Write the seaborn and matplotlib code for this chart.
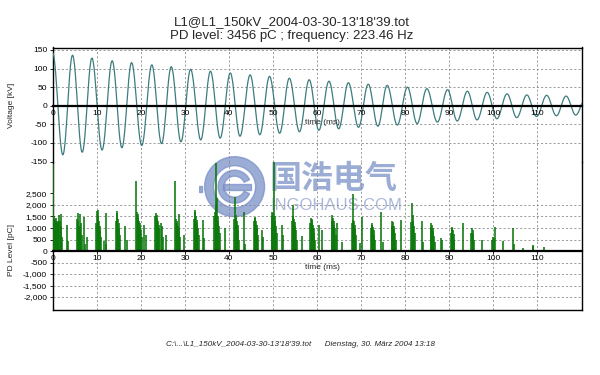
import numpy as np
import pandas as pd
import matplotlib
matplotlib.use("Agg")
import matplotlib.pyplot as plt
import seaborn as sns
from matplotlib.patches import Wedge, Rectangle
from matplotlib.ticker import FuncFormatter

# ---------------- data ----------------
title = "L1@L1_150kV_2004-03-30-13'18'39.tot"
subtitle = "PD level: 3456 pC ; frequency: 223.46 Hz"
footer = "C:\\...\\L1_150kV_2004-03-30-13'18'39.tot      Dienstag, 30. März 2004 13:18"

# voltage extremes (positive peaks / negative troughs)
peak_time_ms = [0.0, 4.5, 8.9, 13.5, 17.9, 22.5, 26.9, 31.3, 35.8, 40.3, 44.8, 49.2, 53.7, 58.2,
                62.7, 67.1, 71.6, 75.9, 80.5, 84.9, 89.6, 94.1, 98.6, 103.1, 107.6, 112.1, 116.5, 121.0]
peak_kv = [142, 136, 128, 121, 116, 110, 105, 98, 93, 88, 83, 79, 74, 70,
           66, 62, 58, 55, 50, 46, 43, 39, 36, 32, 29, 28, 26, 24]
trough_time_ms = [2.3, 6.7, 11.2, 15.7, 20.2, 24.7, 29.1, 33.6, 38.0, 42.5, 47.0, 51.5, 56.0, 60.4,
                  64.9, 69.4, 73.8, 78.2, 82.7, 87.3, 91.8, 96.3, 100.8, 105.3, 109.8, 114.3, 118.7]
trough_kv = [-132, -125, -119, -113, -107, -102, -97, -92, -87, -82, -78, -74, -70, -66,
             -62, -58, -55, -52, -48, -44, -41, -38, -35, -32, -29, -27, -25]

# PD pulses
pd_time_ms = [
    0.05, 0.15, 0.25, 0.4, 0.55, 0.7, 0.85, 1.0, 1.15, 1.3, 1.5, 1.65, 1.8, 1.95, 2.1, 3.15, 3.4,
    5.5, 5.65, 5.8, 5.95, 6.1, 6.3, 6.45, 6.6, 7.1, 7.3, 7.7,
    9.9, 10.05, 10.2, 10.35, 10.5, 10.65, 10.8, 11.0, 11.65, 12.0, 12.2,
    14.4, 14.55, 14.7, 14.85, 15.0, 15.15, 15.3, 16.5, 16.8,
    19.0, 19.15, 19.3, 19.45, 19.6, 19.75, 19.9, 20.05, 20.2, 20.8, 21.1,
    23.3, 23.45, 23.6, 23.75, 23.9, 24.05, 24.2, 24.6, 24.8, 25.0, 25.6,
    27.8, 27.95, 28.1, 28.25, 28.4, 28.55, 28.7, 28.85, 29.9,
    32.1, 32.25, 32.4, 32.55, 32.7, 32.85, 33.0, 33.2, 34.2, 34.4,
    36.7, 36.85, 37.0, 37.15, 37.3, 37.45, 37.6, 37.75, 37.9, 39.1,
    41.2, 41.35, 41.5, 41.65, 41.8, 41.95, 42.1, 42.3, 43.4, 43.6,
    45.7, 45.85, 46.0, 46.15, 46.3, 46.45, 46.6, 47.5, 47.7,
    49.7, 49.85, 50.0, 50.2, 50.35, 50.5, 50.65, 50.8, 52.1, 52.3,
    54.3, 54.45, 54.6, 54.75, 54.9, 55.05, 55.2, 55.4, 56.6,
    58.5, 58.65, 58.8, 58.95, 59.1, 59.25, 59.4, 59.6, 60.4, 61.1,
    63.3, 63.45, 63.6, 63.75, 63.9, 64.05, 64.2, 64.6, 65.6,
    67.9, 68.05, 68.2, 68.35, 68.5, 68.65, 68.8, 69.8, 70.1,
    72.2, 72.35, 72.5, 72.65, 72.8, 72.95, 73.1, 74.6, 75.0,
    76.9, 77.05, 77.2, 77.35, 77.5, 77.65, 77.8, 79.1,
    81.4, 81.55, 81.7, 81.85, 82.0, 82.15, 83.7, 84.0,
    85.8, 85.95, 86.1, 86.25, 86.4, 86.55, 86.7, 88.2, 88.4,
    90.4, 90.55, 90.7, 90.85, 91.0, 91.15, 93.1,
    95.0, 95.15, 95.3, 95.45, 95.6, 97.4,
    99.8, 99.95, 100.1, 100.4,
    102.1, 104.4, 104.6, 106.8, 108.9, 109.1, 111.5,
]
pd_level_pc = [
    2500, 3800, 1500, 1350, 1400, 1300, 1450, 1250, 1300, 1200, 1550, 1300, 1600, 1100, 600, 1130, 450,
    1400, 1640, 1300, 1100, 900, 1600, 1200, 700, 1490, 300, 620,
    1200, 1740, 1780, 1500, 1300, 1100, 900, 600, 450, 1640, 300,
    1300, 1740, 1650, 1400, 1200, 1000, 700, 1100, 500,
    3050, 1700, 1600, 1450, 1300, 1200, 1100, 900, 600, 1130, 700,
    1500, 1640, 1550, 1400, 1300, 1150, 1000, 1200, 1100, 600, 700,
    3050, 1400, 1300, 1200, 1100, 1600, 1000, 600, 700,
    1400, 1780, 1700, 1500, 1350, 1200, 1000, 700, 1350, 550,
    1500, 1700, 3810, 2000, 2300, 1500, 1300, 1100, 800, 1010,
    1400, 2350, 1550, 1450, 1300, 1150, 900, 500, 1710, 300,
    1300, 1490, 1420, 1300, 1150, 1000, 700, 910, 600,
    1500, 1700, 1650, 3850, 1500, 1300, 1100, 800, 1130, 700,
    1300, 2000, 1500, 1400, 1250, 1100, 900, 500, 650,
    1200, 1450, 1400, 1300, 1150, 1000, 800, 500, 1130, 910,
    1300, 1560, 1450, 1300, 1150, 1000, 700, 1200, 400,
    1200, 1350, 2460, 1300, 1150, 950, 700, 330, 1490,
    1000, 1200, 1150, 1050, 900, 700, 500, 1710, 400,
    1100, 1300, 1250, 1100, 950, 800, 500, 1350,
    1250, 2100, 1560, 1300, 1100, 800, 1300, 400,
    1000, 1200, 1150, 1000, 850, 650, 400, 550, 500,
    800, 1010, 1040, 900, 750, 500, 1200,
    800, 980, 900, 750, 500, 480,
    500, 620, 550, 1060,
    430, 990, 300, 140, 200, 260, 190,
]

x_ticks = list(range(0, 111, 10))
v_ticks = [-150, -100, -50, 0, 50, 100, 150]
pd_ticks = [-2000, -1500, -1000, -500, 0, 500, 1000, 1500, 2000, 2500]

# ---------------- build the voltage trace from the read extremes ----------------
ext = sorted(list(zip(peak_time_ms, peak_kv)) + list(zip(trough_time_ms, trough_kv)))
tt, vv = [], []
for (t0, v0), (t1, v1) in zip(ext[:-1], ext[1:]):
    s = np.linspace(0, 1, 24, endpoint=False)
    tt.extend(t0 + (t1 - t0) * s)
    vv.extend(v0 + (v1 - v0) * (1 - np.cos(np.pi * s)) / 2)
tt.append(ext[-1][0]); vv.append(ext[-1][1])
volt = pd.DataFrame({"time": tt, "kv": vv})

# ---------------- style ----------------
sns.set_theme(style="white")
plt.rcParams["font.family"] = ["Liberation Sans", "DejaVu Sans"]
plt.rcParams["axes.unicode_minus"] = False

fig = plt.figure(figsize=(6.0, 3.75), dpi=100)
fig.patch.set_facecolor("white")

L, W = 52.7 / 600, (581.5 - 52.7) / 600
ax_v = fig.add_axes([L, 1 - 161.5 / 375, W, (161.5 - 47.5) / 375])
ax_p = fig.add_axes([L, 1 - 309.5 / 375, W, (309.5 - 161.5) / 375])

grid_kw = dict(color="#8a8a8a", linestyle=(0, (2.5, 2.5)), linewidth=0.6)

for ax in (ax_v, ax_p):
    ax.set_facecolor("none")
    ax.set_xlim(0, 120)
    ax.set_xticks(list(range(0, 121, 10)))
    ax.tick_params(axis="x", length=0, labelbottom=False)
    ax.tick_params(axis="y", length=2.5, width=0.6, labelsize=6, pad=1.5, colors="black", left=True)
    ax.grid(True, **grid_kw)
    for sp in ax.spines.values():
        sp.set_color("black")
        sp.set_linewidth(1.0)

ax_v.spines["bottom"].set_visible(False)
ax_p.spines["top"].set_visible(False)

# voltage panel
v_lo, v_hi = -150, 156.7
ax_v.set_ylim(v_lo, v_hi)
ax_v.set_yticks(v_ticks)
sns.lineplot(data=volt, x="time", y="kv", ax=ax_v, color="#3c7c7e", linewidth=0.9,
             estimator=None, sort=False, zorder=3)
ax_v.set_xlabel("")
ax_v.set_ylabel("Voltage [kV]", fontsize=6, labelpad=2)
ax_v.yaxis.set_label_coords(-0.071, (0 - v_lo) / (v_hi - v_lo))

# PD panel
p_lo, p_hi = -2543, 3891
ax_p.set_ylim(p_lo, p_hi)
ax_p.set_yticks(pd_ticks)
ax_p.yaxis.set_major_formatter(FuncFormatter(lambda v, p: f"{int(v):,}"))
for val, gl in zip(pd_ticks, ax_p.get_ygridlines()):
    if val in (2500, 0):
        gl.set_visible(False)
ax_p.vlines(pd_time_ms, 0, pd_level_pc, color="#0c780c", linewidth=1.15, zorder=3)
ax_p.set_ylabel("PD Level [pC]", fontsize=6, labelpad=2)
ax_p.yaxis.set_label_coords(-0.071, (0 - p_lo) / (p_hi - p_lo) + 0.005)

# zero lines carrying the time axes
for ax, lo, hi in ((ax_v, v_lo, v_hi), (ax_p, p_lo, p_hi)):
    sec = ax.secondary_xaxis((0 - lo) / (hi - lo))
    sec.set_xticks(x_ticks)
    sec.set_xticklabels([str(x) for x in x_ticks])
    sec.tick_params(axis="x", length=2, width=0.6, labelsize=6, pad=1, colors="black")
    for sp in sec.spines.values():
        sp.set_linewidth(1.6)
        sp.set_color("black")
    sec.set_xlabel("time (ms)", fontsize=6, labelpad=1.5)
    sec.xaxis.label.set_x(0.51)
    sec.set_zorder(4)

# titles & footer
fig.text(292 / 600, 1 - 22 / 375, title, ha="center", va="center", fontsize=9.5)
fig.text(292 / 600, 1 - 36 / 375, subtitle, ha="center", va="center", fontsize=9.5)
fig.text(301 / 600, 1 - 344 / 375, footer, ha="center", va="center", fontsize=5.8, style="italic")

# watermark (drawn beneath the plot content)
wm_col = "#7a90c8"
fig.text(334 / 600, 1 - 179 / 375, "国浩电气", ha="center", va="center", fontsize=23,
         fontweight="bold", color=wm_col, alpha=0.75, zorder=-1,
         family=["Noto Sans CJK SC", "DejaVu Sans"])
fig.text(336 / 600, 1 - 206 / 375, "INGOHAUS.COM", ha="center", va="center", fontsize=12,
         color="#96a6d2", alpha=0.8, zorder=-1)
lax = fig.add_axes([(234.6 - 36) / 600, 1 - (186.7 + 36) / 375, 72 / 600, 72 / 375], zorder=-1)
lax.set_xlim(-1.2, 1.2); lax.set_ylim(-1.2, 1.2); lax.set_aspect("equal"); lax.axis("off")
lax.add_patch(Wedge((0, 0), 1.0, 0, 360, width=0.3, color=wm_col, alpha=0.75))
lax.add_patch(Wedge((0, 0), 0.55, 25, 335, width=0.2, color=wm_col, alpha=0.75))
lax.add_patch(Rectangle((-0.4, -0.1), 0.95, 0.2, color=wm_col, alpha=0.75))
lax.add_patch(Rectangle((-1.2, -0.18), 0.12, 0.2, color=wm_col, alpha=0.75))

fig.savefig("out.png", dpi=100, facecolor="white")
